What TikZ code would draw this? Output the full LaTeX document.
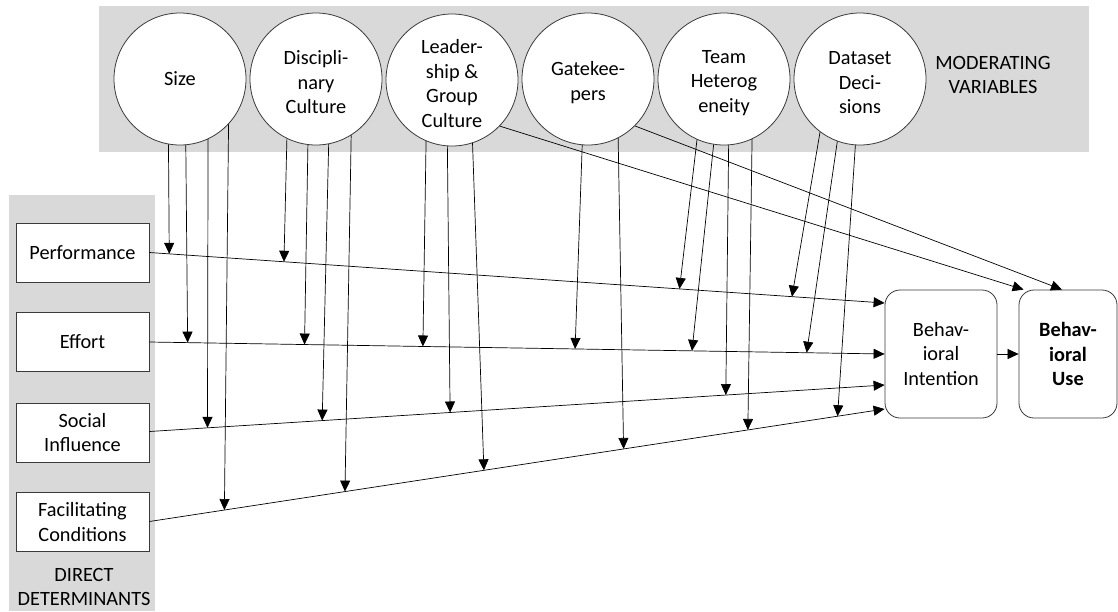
\documentclass[tikz,border=0pt]{standalone}
\usepackage{fontspec}
\setmainfont{Carlito}
\usetikzlibrary{arrows.meta,calc}
\definecolor{bandgray}{HTML}{D9D9D9}
\definecolor{edge}{HTML}{3A3A3A}
\newcommand\toppad{\rule{0pt}{21pt}}
\begin{document}
\begin{tikzpicture}[x=1pt,y=-1pt,
  every node/.style={font=\fontsize{20.3}{24.5}\selectfont, align=center},
  modcircle/.style={circle, draw=edge, fill=white, line width=0.8pt, minimum size=132pt, inner sep=0pt},
  detbox/.style={rectangle, draw=edge, fill=white, line width=0.8pt, minimum width=133pt, minimum height=59pt, inner sep=0pt},
  outbox/.style={rectangle, rounded corners=15pt, draw=edge, fill=white, line width=0.8pt, minimum height=128pt, inner sep=0pt},
  conn/.style={draw=black, line width=0.7pt, -{Triangle[length=11pt,width=10pt]}},
  bandlabel/.style={inner sep=0pt},
]
\useasboundingbox (0,0) rectangle (1118,611);
\fill[bandgray] (99,6) rectangle (1089,152);
\fill[bandgray] (9,195) rectangle (155,611);

% moderating variables
\node[modcircle] (size) at (180,79) {Size};
\node[modcircle] (disc) at (316,79) {\toppad Discipli-\\nary\\Culture};
\node[modcircle] (lead) at (452,80) {\toppad Leader-\\ship \&\\Group\\Culture};
\node[modcircle] (gate) at (588,79) {\toppad Gatekee-\\pers};
\node[modcircle] (team) at (724,79) {\toppad Team\\Heterog\\eneity};
\node[modcircle] (data) at (860,79) {\toppad Dataset\\Deci-\\sions};
\node[bandlabel] (modlab) at (993,75) {MODERATING\\VARIABLES};

% direct determinants
\node[detbox] (perf) at (82.5,252.5) {Performance};
\node[detbox] (eff) at (82.5,342) {Effort};
\node[detbox] (soc) at (82.5,432.5) {Social\\Influence};
\node[detbox] (fac) at (82.5,522) {Facilitating\\Conditions};
\node[bandlabel] (detlab) at (84,587) {DIRECT\\DETERMINANTS};

% outcomes
\node[outbox, minimum width=112pt] (bi) at (941,354) {Behav-\\ioral\\Intention};
\node[outbox, minimum width=98pt] (bu) at (1068,354) {\bfseries Behav-\\\bfseries ioral\\\bfseries Use};

\coordinate (biP) at ($(bi.west)+(0,-51)$);
\coordinate (biE) at ($(bi.west)+(0,0)$);
\coordinate (biS) at ($(bi.west)+(0,31)$);
\coordinate (biF) at ($(bi.west)+(0,55)$);
\coordinate (buL) at ($(bu.north west)+(5,0)$);
\coordinate (buG) at ($(bu.north)+(-6,0)$);

% main connectors
\draw[conn] (perf.east) -- (biP);
\draw[conn] (eff.east) -- (biE);
\draw[conn] (soc.east |- 0,431.5) -- (biS);
\draw[conn] (fac.east |- 0,521.5) -- (biF);
\draw[conn] (bi.east) -- (bu.west);

% Size
\draw[conn] (size.-100.5) -- ($(perf.east)!0.027!(biP)$);
\draw[conn] (size.-85.7) -- ($(eff.east)!0.052!(biE)$);
\draw[conn] (size.-65.9) -- ($(soc.east |- 0,431.5)!0.079!(biS)$);
\draw[conn] (size.-43.3) -- ($(fac.east |- 0,521.5)!0.102!(biF)$);
% Disciplinary
\draw[conn] (disc.-116.1) -- ($(perf.east)!0.183!(biP)$);
\draw[conn] (disc.-97.8) -- ($(eff.east)!0.211!(biE)$);
\draw[conn] (disc.-79.5) -- ($(soc.east |- 0,431.5)!0.235!(biS)$);
\draw[conn] (disc.-58) -- ($(fac.east |- 0,521.5)!0.266!(biF)$);
% Leadership
\draw[conn] (lead.-113.2) -- ($(eff.east)!0.372!(biE)$);
\draw[conn] (lead.-94.3) -- ($(soc.east |- 0,431.5)!0.409!(biS)$);
\draw[conn] (lead.-72.4) -- ($(fac.east |- 0,521.5)!0.455!(biF)$);
\draw[conn] (lead.-44) -- (buL);
% Gatekeepers
\draw[conn] (gate.-95.2) -- ($(eff.east)!0.579!(biE)$);
\draw[conn] (gate.-63.9) -- ($(fac.east |- 0,521.5)!0.645!(biF)$);
\draw[conn] (gate.-45) -- (buG);
% Team
\draw[conn] (team.-114.1) -- ($(perf.east)!0.721!(biP)$);
\draw[conn] (team.-99.6) -- ($(eff.east)!0.738!(biE)$);
\draw[conn] (team.-86.5) -- ($(soc.east |- 0,431.5)!0.784!(biS)$);
\draw[conn] (team.-65.9) -- ($(fac.east |- 0,521.5)!0.814!(biF)$);
% Dataset
\draw[conn] (data.-127.3) -- ($(perf.east)!0.874!(biP)$);
\draw[conn] (data.-110.4) -- ($(eff.east)!0.894!(biE)$);
\draw[conn] (data.-94.3) -- ($(fac.east |- 0,521.5)!0.936!(biF)$);
\end{tikzpicture}
\end{document}
